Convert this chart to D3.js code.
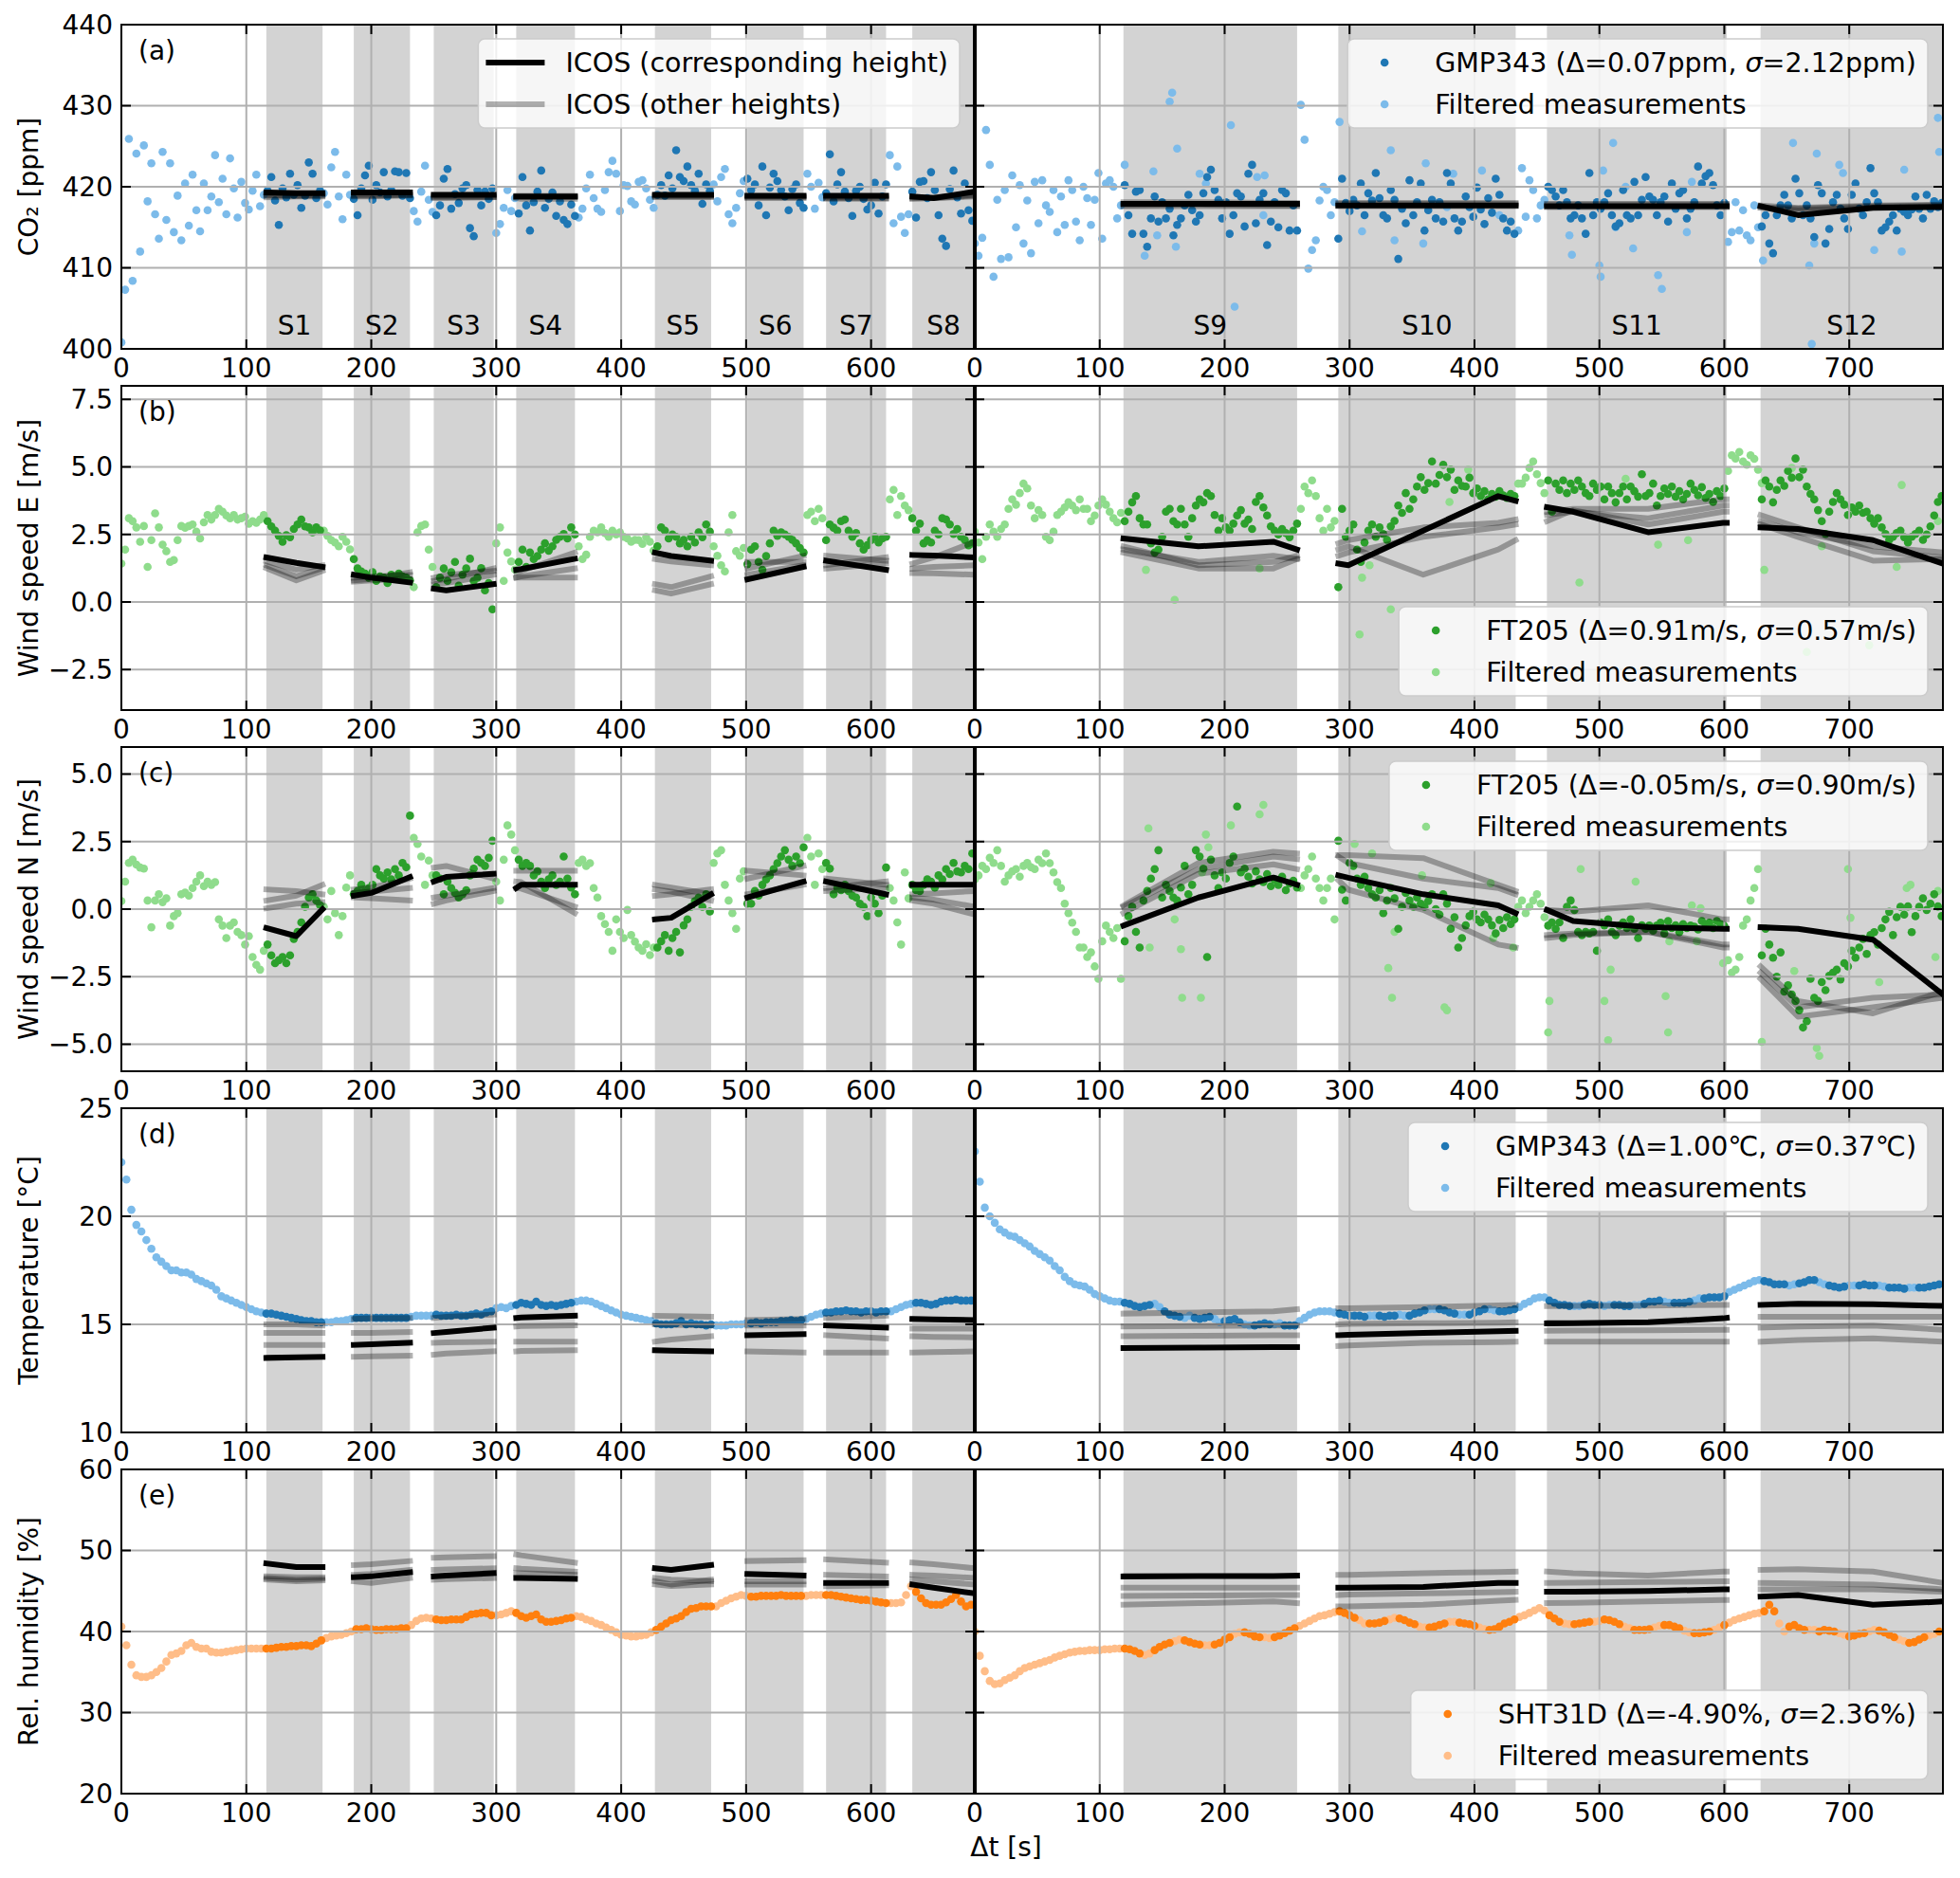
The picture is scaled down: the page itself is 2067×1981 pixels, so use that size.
<!DOCTYPE html>
<html><head><meta charset="utf-8">
<script src="https://cdn.jsdelivr.net/npm/d3@7"></script>
<style>body{margin:0;background:#fff} svg text{font-family:"DejaVu Sans",sans-serif;fill:#000}</style>
</head><body><svg id="c" width="2067" height="1981"></svg>
<script>
// ---------------- DATA ----------------
const segL=[[116,161],[186,231],[250,298],[316,363],[427,472],[501,546],[564,612],[633,683]];
const segR=[[119,258],[291,433],[458,602],[629,775]];
const segNamesL=["S1","S2","S3","S4","S5","S6","S7","S8"];
const segNamesR=["S9","S10","S11","S12"];
const icosTL=[[116,140,161],[186,200,231],[250,260,298],[316,320,363],[427,440,472],[501,546],[564,612],[633,650,683]];
const icosTR=[[119,179,239,258],[291,299,359,419,433],[458,479,539,599,602],[629,659,719,775]];
const xTicksL=[0,100,200,300,400,500,600];
const xTicksR=[0,100,200,300,400,500,600,700];

// CO2 (step 3 s)
const co2L=[400.8,407.3,425.9,408.4,424.1,412.0,425.1,418.2,422.9,416.6,
413.6,424.3,415.9,422.9,414.4,418.9,413.4,420.4,415.2,421.5,
417.1,414.5,420.4,417.1,418.8,423.9,418.1,421.0,416.6,423.5,
419.8,416.2,420.6,418.0,417.2,419.5,421.5,417.6,419.0,419.5,
421.2,418.3,415.3,419.8,418.7,421.6,419.0,420.2,417.4,418.9,
423.0,421.6,418.6,419.5,419.2,417.8,422.4,424.3,418.8,416.0,
421.5,419.0,418.5,416.5,419.8,421.4,422.6,418.4,420.2,419.3,
421.8,418.8,419.6,421.9,421.8,418.9,421.7,418.6,417.0,415.7,
419.4,422.6,418.4,416.9,416.5,417.7,421.0,422.2,417.3,419.1,
418.0,419.8,420.2,414.9,413.9,419.6,417.7,419.4,418.5,419.8,
414.3,415.4,417.4,419.6,417.0,418.6,416.7,421.2,417.7,414.6,
418.1,419.4,422.0,417.4,418.5,419.3,416.4,418.2,415.9,415.4,
417.8,416.4,416.2,417.3,419.8,421.5,418.6,417.3,416.9,419.6,
421.8,423.2,421.6,417.0,420.2,420.1,418.2,417.8,420.6,420.8,
419.8,418.4,417.4,419.0,420.2,418.9,421.4,419.8,424.5,421.2,
420.7,422.5,420.2,419.5,421.6,417.9,420.3,419.5,420.3,418.2,
421.2,422.2,416.6,415.5,417.4,419.2,420.7,421.0,419.6,420.3,
417.7,422.5,416.5,419.9,421.6,420.7,419.6,418.8,417.1,419.7,
420.3,418.0,417.4,421.6,420.0,417.3,420.5,418.7,419.2,424.0,
418.2,420.3,421.8,419.4,418.6,416.4,419.5,420.0,418.5,417.2,
417.7,420.5,416.7,418.8,420.3,423.9,415.5,422.5,416.3,414.3,
416.6,419.4,416.2,420.6,420.7,418.6,421.8,419.6,416.5,413.6,
412.7,419.7,422.0,418.7,416.7,420.4,417.1,415.8];
const co2R=[413.0,411.5,413.7,427.0,422.7,408.9,418.4,411.1,419.6,411.3,
421.4,415.0,420.2,413.0,418.3,411.8,420.6,415.5,420.8,417.7,
416.9,419.6,414.4,418.8,415.3,420.8,419.6,415.7,413.4,420.0,
418.6,415.3,418.4,421.7,413.6,420.4,420.8,420.0,416.1,417.7,
420.2,416.5,414.2,419.4,419.6,414.2,412.6,416.1,418.8,415.7,
418.1,416.1,417.3,414.0,415.3,416.1,417.7,419.0,417.1,415.7,
416.5,419.2,421.2,422.1,419.6,418.4,416.1,418.1,414.2,416.5,
419.2,418.8,415.1,421.6,422.7,415.5,418.4,419.2,412.8,415.7,
418.1,415.0,419.6,419.2,414.6,417.7,414.6,430.1,425.8,409.9,
412.2,413.4,418.3,420.0,419.6,416.5,418.1,413.6,421.0,418.0,
417.0,418.4,417.7,420.4,416.5,419.2,418.3,421.7,418.6,416.5,
416.1,419.6,418.4,411.1,417.3,415.5,420.8,416.5,418.1,420.4,
414.6,417.1,418.4,416.1,418.1,415.7,421.7,420.4,416.1,414.6,
415.7,418.8,417.5,416.3,419.9,417.2,415.4,418.6,416.8,421.0,
419.0,416.1,414.6,415.7,414.2,414.6,422.3,416.3,420.8,419.6,
416.1,417.7,418.4,420.0,419.6,418.8,417.7,419.6,418.1,416.1,
416.5,417.7,416.1,414.2,421.7,416.5,418.1,417.3,418.1,419.2,
416.5,415.1,415.5,419.6,416.5,416.1,420.6,416.5,418.4,421.2,
418.8,418.4,416.5,418.1,418.8,415.7,420.4,417.3,419.2,419.6,
416.1,417.3,418.1,422.5,420.4,421.3,421.7,420.2,417.7,416.5,
418.0,413.2,414.4,418.1,414.6,417.1,414.0,413.4,417.7,415.0,
415.1,416.5,413.0,411.8,416.5,417.7,419.0,417.7,416.1,421.0,
419.2,416.5,417.7,416.1,413.8,420.2,419.2,413.0,414.8,418.1,
419.0,417.3,416.1,414.8,419.0,420.4,417.3,416.5,418.1,422.3,
419.2,418.1,414.6,415.0,415.7,416.5,414.6,417.3,416.9,416.5,
417.2,418.8,417.3,416.1,419.0,417.3,418.2,417.5,418.0];
const co2RFilt=[[120,422.7],[136,411.5],[143,421.9],[146,414.0],[156,430.5],[158,431.6],[162,424.7],[161,412.6],[180,421.6],[185,420.4],[205,427.6],[208,405.2],[226,421.2],[231,416.5],[232,421.4],
[292,428.0],[333,424.5],[336,413.4],[359,413.0],[361,422.9],[383,421.6],[406,422.0],[420,416.5],[378,417.5],[310,414.5],
[511,425.4],[500,410.3],[501,408.9],[478,411.6],[527,412.4],[547,409.1],[550,407.4],[570,414.4],[521,420.0],[574,420.6],[476,414.0],[513,415.0],[503,422.0],
[631,410.9],[655,425.4],[674,424.1],[668,410.3],[670,400.6],[672,413.0],[692,422.7],[695,421.7],[720,412.2],[742,412.0],[744,422.1],[771,428.5],[772,424.3]];
const co2IcL=[
 [[419.3,419.2,419.2],[418.7,418.8,418.8],[418.9,418.9,418.9],[419.0,418.9,419.0]],
 [[419.3,419.3,419.3],[418.9,418.9,419.0],[419.0,419.0,419.0],[418.8,418.8,418.9]],
 [[419.0,419.0,419.0],[418.6,418.6,418.7],[418.8,418.8,418.8],[418.7,418.7,418.7]],
 [[418.8,418.8,418.8],[418.6,418.5,418.5],[418.7,418.7,418.7],[418.9,418.9,418.9]],
 [[419.0,419.0,419.0],[418.8,418.8,418.8],[418.7,418.7,418.7],[418.9,418.9,418.9]],
 [[418.9,418.9],[418.6,418.6],[418.7,418.7],[418.8,418.8]],
 [[418.9,418.9],[418.5,418.5],[418.6,418.6],[418.7,418.8]],
 [[418.8,418.6,419.4],[418.6,418.6,418.9],[418.7,418.7,419.0],[418.5,418.6,418.8]]];
const co2IcR=[
 [[417.9,417.9,417.9,417.9],[417.7,417.8,417.7,417.7],[418.1,418.1,418.0,418.0],[417.6,417.6,417.6,417.6]],
 [[417.7,417.7,417.7,417.7,417.7],[417.9,417.9,417.9,417.9,417.9],[417.6,417.6,417.6,417.6,417.6],[418.0,418.0,418.0,418.0,418.0]],
 [[417.6,417.6,417.6,417.6,417.6],[417.8,417.8,417.8,417.8,417.8],[417.5,417.5,417.5,417.5,417.5],[417.9,417.9,417.9,417.9,417.9]],
 [[417.6,416.5,417.4,417.5],[417.4,417.1,417.5,417.6],[417.5,417.3,417.6,417.7],[417.7,417.4,417.7,417.8]]];

// Wind speed E (step 3 s)
const windEL=[1.42,1.94,3.10,2.99,2.76,2.23,2.81,1.30,2.29,3.28,
2.76,2.12,1.88,1.48,1.55,2.29,2.81,2.75,2.81,2.87,
2.60,2.35,2.95,3.22,3.05,3.22,3.45,3.34,3.20,3.10,
3.22,3.05,3.10,3.16,2.90,2.99,2.93,3.05,3.22,2.99,
2.80,2.64,2.45,2.23,2.47,2.40,2.70,2.87,3.05,2.80,2.76,2.58,2.76,2.65,
2.64,2.45,2.29,2.20,2.06,2.41,2.23,1.95,
1.59,1.24,1.13,1.05,0.90,1.10,0.78,0.95,0.90,0.70,1.01,0.85,1.05,0.95,0.90,
0.80,0.55,2.58,2.81,2.87,1.94,1.30,
0.55,0.90,1.24,0.78,1.10,1.48,0.60,1.01,1.24,1.60,0.78,0.90,1.25,0.43,0.70,-0.27,
2.17,2.76,0.78,1.83,1.50,1.20,
1.48,1.94,1.30,1.83,1.59,1.70,1.94,2.17,1.90,2.06,2.30,2.41,2.52,2.35,2.76,2.50,
2.06,1.59,1.75,2.41,2.64,2.58,2.76,2.55,2.41,2.64,2.50,2.58,2.41,2.35,2.23,2.30,2.29,2.15,2.40,2.23,1.90,
2.06,2.76,2.64,2.35,2.50,2.41,2.17,2.30,2.06,2.41,2.20,2.58,2.40,2.87,2.60,
2.06,1.71,1.36,1.13,2.58,3.22,1.88,1.71,2.00,1.40,
1.94,2.06,1.48,1.19,1.70,2.17,2.64,2.45,2.58,2.50,2.41,2.30,2.17,2.00,1.83,
3.22,3.34,2.99,3.45,3.10,
2.29,2.87,2.75,2.64,2.99,3.05,2.64,2.41,2.55,2.17,1.94,2.10,2.29,2.41,2.20,2.35,2.41,
3.80,4.15,3.22,3.92,3.57,3.40,
3.10,2.64,2.90,2.17,2.29,2.20,2.64,2.50,3.10,3.05,2.87,2.52,2.70,2.41,2.30,2.10,2.17];
const windER=[2.60,2.20,1.59,2.41,2.87,2.60,2.41,2.70,2.87,3.45,
3.80,3.60,4.03,4.38,4.20,3.57,3.10,3.40,3.22,2.41,
2.29,2.60,3.22,3.34,3.50,3.69,3.57,3.40,3.80,3.45,
3.45,2.99,3.20,3.57,3.80,3.60,3.34,3.10,2.95,3.30,
2.99,3.34,3.69,3.92,3.10,2.87,2.87,2.17,1.83,1.94,
2.41,3.34,3.45,2.99,2.87,3.45,2.87,2.41,3.10,3.57,
3.80,3.69,4.03,3.92,3.22,2.64,3.10,2.76,2.64,2.90,
3.20,3.40,2.90,3.05,2.70,3.70,3.92,3.50,3.20,2.80,
2.64,2.50,2.70,2.55,2.40,2.64,2.90,
3.45,4.27,4.03,4.50,3.92,3.10,2.64,3.45,2.76,3.00,
0.55,3.45,2.41,2.64,2.87,1.94,1.48,2.20,2.64,2.87,
2.41,2.76,2.52,2.30,2.80,3.00,3.57,3.30,4.03,3.45,
3.80,4.27,4.62,4.15,4.40,5.20,4.38,4.70,5.08,4.62,
4.90,4.15,4.50,4.30,4.27,4.60,4.03,4.20,3.92,4.10,
3.80,4.00,3.90,4.10,3.95,3.85,4.00,3.92,
4.38,4.38,4.60,4.96,5.20,4.73,4.40,4.03,
4.50,3.34,4.38,4.15,4.50,4.03,4.38,4.15,4.50,4.27,
4.03,3.92,4.38,4.15,4.27,3.80,4.27,4.03,3.69,4.03,
4.27,3.80,4.27,4.10,3.90,4.73,3.92,4.03,4.38,3.57,
3.92,4.20,4.00,4.27,3.90,4.10,3.80,4.00,4.38,4.15,
3.95,4.25,3.85,4.00,3.70,4.10,3.92,4.20,
4.85,5.43,5.31,5.55,5.20,5.08,5.43,5.30,4.90,
3.80,4.50,4.27,3.69,4.15,4.50,4.30,4.85,4.60,5.31,
4.62,4.90,4.27,4.00,3.80,3.40,2.99,2.52,3.34,3.70,
4.03,3.80,3.60,3.22,3.50,3.34,3.57,3.30,3.34,3.10,
2.90,3.10,2.76,2.52,2.30,2.41,2.55,2.64,2.40,2.20,
2.41,2.52,2.64,2.30,2.50,2.80,3.20,3.70,3.92];
const windERFilt=[[137,1.19],[160,0.08],[228,1.24],[308,-1.2],[310,0.9],[316,1.36],[333,-0.27],[484,0.72],[547,2.12],[571,2.29],[521,4.56],[632,1.19],[678,2.06],[716,-1.6],[738,1.3],[666,-1.85],[742,4.33],[771,2.99],[654,4.96],[380,3.7],[395,4.9],[630,4.4]];
const weIcL=[
 [[1.65,1.45,1.30],[1.25,0.80,1.15],[1.35,0.95,1.25],[1.50,1.20,1.35]],
 [[1.01,0.90,0.72],[0.80,0.85,1.10],[0.90,0.95,1.00],[0.75,0.80,0.85]],
 [[0.49,0.43,0.66],[0.78,0.85,1.24],[0.66,0.70,1.01],[0.90,1.00,1.15]],
 [[1.19,1.22,1.60],[0.90,0.90,0.90],[0.90,0.95,1.24],[1.10,1.15,1.83]],
 [[1.83,1.70,1.53],[0.66,0.55,0.95],[0.43,0.31,0.66],[1.59,1.50,1.36]],
 [[0.84,1.30],[1.48,1.48],[1.24,1.71],[1.01,1.36]],
 [[1.53,1.19],[1.36,1.65],[1.71,1.53],[1.24,1.42]],
 [[1.74,1.72,1.65],[1.42,1.65,2.23],[1.07,1.06,1.01],[1.24,1.30,1.36]]];
const weIcR=[
 [[2.35,2.06,2.23,1.94],[1.94,1.48,1.71,1.59],[1.83,1.24,1.24,1.59],[2.06,1.36,1.48,1.71]],
 [[1.42,1.36,2.64,3.92,3.74],[2.17,2.29,2.76,2.93,3.05],[1.94,2.06,1.01,1.94,2.29],[1.71,1.83,2.41,2.76,2.87]],
 [[3.51,3.34,2.58,2.93,2.93],[3.34,3.45,3.45,3.80,3.80],[3.22,3.34,3.10,3.57,3.57],[2.99,3.40,2.87,3.34,3.34]],
 [[2.76,2.70,2.29,1.42],[3.22,2.76,1.88,1.65],[2.87,2.41,1.53,1.59],[2.99,2.58,2.06,1.83]]];

// Wind speed N (step 3 s)
const windNL=[0.30,1.02,1.71,1.83,1.65,1.54,1.50,0.32,-0.67,0.32,
0.55,0.26,0.40,-0.61,-0.26,-0.15,0.55,0.61,0.50,0.78,
1.02,1.25,0.85,1.02,0.90,1.00,-0.38,-0.61,-1.07,-0.61,
-0.49,-0.84,-0.96,-1.31,-1.00,-1.77,-2.06,-2.24,-1.54,-1.31,
-1.71,-2.00,-1.89,-1.77,-2.00,-1.71,-1.10,-0.84,-0.49,0.09,0.43,0.55,0.32,0.15,
0.09,-0.38,0.67,-0.15,-0.96,-0.26,0.80,1.25,
0.55,0.67,0.90,0.67,0.78,0.90,1.48,1.25,1.13,1.36,1.10,1.48,1.25,1.71,1.55,
3.46,2.64,2.41,1.95,0.90,1.80,1.25,
1.25,1.13,0.55,1.02,0.78,0.60,0.43,0.55,0.70,1.25,1.50,1.83,1.71,1.60,1.90,2.53,
1.02,0.32,1.83,3.10,2.76,2.18,
1.83,1.60,1.71,1.60,1.25,1.40,1.02,0.78,1.10,1.25,0.90,1.02,1.95,1.13,0.80,0.55,
1.71,1.83,1.60,1.70,0.78,0.43,-0.26,-0.55,-0.84,-1.54,-0.38,-0.84,-1.07,-0.03,-0.96,-1.20,-1.42,-1.54,-1.30,-1.70,-1.42,
-1.42,-1.19,-0.96,-1.54,-1.07,-0.84,-1.60,-0.60,-0.38,0.09,0.30,0.43,0.09,0.55,-0.09,
1.71,2.06,2.18,0.90,0.32,-0.15,-0.73,1.13,1.40,0.20,
0.20,0.67,0.50,0.90,1.10,1.25,1.48,1.70,1.95,2.18,1.83,1.60,1.95,1.70,2.29,
2.64,1.95,0.90,2.06,1.48,
1.71,1.50,0.55,0.78,0.70,0.90,0.67,0.50,0.43,0.20,0.09,-0.26,0.43,0.20,-0.15,0.50,1.54,
0.78,0.32,-0.49,-1.31,1.36,0.40,
0.90,0.70,0.67,0.90,1.10,1.02,0.80,1.25,1.10,1.48,1.30,1.71,1.40,1.36,1.60,1.48,2.06];
const windNR=[1.10,1.25,1.60,1.48,1.90,1.71,2.18,1.60,1.02,1.25,
1.40,1.48,1.20,1.60,1.71,1.55,1.48,1.83,1.70,2.06,
1.70,1.36,1.00,0.78,0.20,-0.15,-0.50,-0.84,-1.42,-1.42,
-1.77,-1.60,-2.12,-2.58,-1.19,-0.61,-0.84,-1.07,-0.70,-2.58,
-1.19,-0.26,0.09,-0.84,-1.42,0.32,0.67,1.13,1.48,2.18,
0.43,0.90,0.67,0.43,0.32,0.80,1.60,0.55,0.90,2.18,
1.95,1.50,-1.77,1.83,1.25,0.78,1.36,1.13,1.71,1.95,
3.80,1.36,1.50,1.20,0.95,1.40,1.10,1.00,1.30,0.85,
1.10,0.90,1.20,0.70,0.95,1.05,0.80,
0.78,1.25,1.48,1.95,1.13,0.78,0.32,0.78,1.13,-0.38,
2.53,0.72,0.32,1.71,1.60,1.13,0.90,1.20,0.78,0.55,
0.43,0.70,-0.15,0.32,0.78,0.40,-0.73,0.09,0.60,0.32,
0.09,0.43,0.20,0.09,0.30,0.55,0.00,-0.20,0.55,0.20,
-0.73,-0.30,-1.42,-1.07,-0.60,-0.26,-0.10,-0.38,-0.49,-0.20,
-0.38,-0.60,-0.90,-0.40,-0.70,-0.30,-0.55,-0.38,
0.09,0.32,-0.15,0.09,0.32,0.55,0.20,-0.30,
-0.61,-0.49,-0.73,-0.49,-1.07,0.09,0.32,-0.03,-0.84,-0.96,
-0.84,-0.90,-0.84,-1.54,-0.49,-0.60,-0.38,-0.84,-0.96,-0.61,
-0.49,-0.70,-0.38,-0.73,-1.07,-0.60,-0.73,-0.61,-0.80,-0.61,
-0.50,-0.90,-0.44,-0.70,-0.60,-0.85,-0.55,-0.70,-0.61,-0.65,
-0.75,-0.44,-0.60,-0.50,-0.70,-0.44,-0.55,-0.62,
-1.89,-2.35,-2.24,-1.77,-0.61,-0.38,0.32,0.78,1.48,
-1.71,-0.73,-1.31,-1.80,-2.50,-1.60,-3.05,-2.82,-3.16,-3.40,
-3.74,-4.38,-4.15,-2.58,-3.28,-3.40,-2.70,-3.00,-2.47,-2.35,
-2.24,-2.60,-2.00,-2.12,-1.54,-1.80,-1.42,-1.10,-1.66,-0.96,
-0.85,-1.31,-0.70,-0.38,-0.10,-0.96,-0.30,0.09,-0.20,0.10,
-0.85,-0.26,0.09,0.40,-0.03,0.20,0.55,0.10,-0.26];
const windNRFilt=[[139,2.99],[140,-1.42],[160,-0.38],[165,-1.48],[182,1.36],[185,2.76],[187,2.29],[205,3.1],[228,3.51],[231,3.86],[181,-3.28],[166,-3.28],[304,2.41],[318,2.06],[331,-2.18],[336,-0.84],[334,-3.28],[358,1.25],[376,-3.63],[378,-3.74],[413,0.96],[431,-1.42],[415,-1.07],[459,-4.56],[460,-3.4],[485,1.48],[504,-3.4],[507,-4.85],[509,-2.24],[529,1.02],[553,-3.22],[555,-4.56],[556,-1.19],[574,0.14],[581,0.03],[578,-1.19],[599,-2.0],[630,-4.91],[656,-2.29],[674,-5.14],[676,-5.43],[699,1.48],[701,-0.32],[724,-2.7],[746,0.78],[749,0.9],[769,-1.77],[771,0.67]];
const wnIcL=[
 [[-0.70,-1.00,0.00],[0.73,0.67,0.55],[0.32,0.50,0.90],[0.03,0.20,0.26]],
 [[0.50,0.60,1.19],[0.43,0.40,0.32],[0.60,0.65,0.78],[0.73,0.80,1.13]],
 [[1.02,1.19,1.31],[1.54,1.60,1.13],[0.20,0.32,0.67],[0.43,0.50,0.78]],
 [[0.78,0.90,0.90],[1.42,1.42,1.42],[1.02,1.00,-0.15],[0.78,0.76,0.09]],
 [[-0.38,-0.32,0.55],[0.90,0.80,0.55],[0.49,0.55,0.73],[0.73,0.65,0.32]],
 [[0.43,1.02],[1.42,1.25],[0.55,0.90],[1.13,1.60]],
 [[1.02,0.55],[1.13,0.90],[0.67,0.78],[0.78,1.02]],
 [[0.90,0.90,0.90],[0.43,0.35,0.09],[0.55,0.58,0.67],[0.32,0.20,-0.20]]];
const wnIcR=[
 [[-0.61,0.43,1.17,0.90],[0.14,1.71,2.12,2.06],[-0.15,1.31,1.66,1.48],[0.09,1.48,1.95,1.85]],
 [[1.25,1.16,0.55,0.14,-0.15],[2.00,2.00,1.89,0.90,0.67],[1.95,1.71,1.13,0.78,0.55],[1.07,0.72,-0.03,-1.31,-1.42]],
 [[-0.03,-0.44,-0.67,-0.73,-0.73],[-0.03,-0.10,0.14,-0.38,-0.38],[-1.07,-0.96,-0.84,-1.42,-1.42],[-0.96,-0.90,-0.84,-1.31,-1.31]],
 [[-0.67,-0.73,-1.13,-3.16],[-2.35,-3.63,-3.28,-3.16],[-2.58,-3.98,-3.63,-3.28],[-2.12,-3.40,-3.86,-3.05]]];

// Temperature (step 4 s)
const tempL=[22.5,21.7,20.3,19.6,19.3,18.9,18.5,18.1,17.9,17.7,
17.5,17.5,17.4,17.4,17.3,17.1,17.0,16.9,16.8,16.6,
16.3,16.2,16.1,16.0,15.9,15.8,15.7,15.6,15.55,15.5,
15.5,15.45,15.4,15.35,15.3,15.25,15.2,15.15,15.15,15.1,
15.1,15.1,15.1,15.15,15.15,15.2,15.25,15.3,15.3,15.3,
15.3,15.3,15.3,15.3,15.3,15.3,15.3,15.3,15.35,15.4,
15.4,15.4,15.4,15.45,15.4,15.4,15.4,15.45,15.4,15.4,
15.45,15.5,15.45,15.55,15.6,15.75,15.8,15.75,15.85,15.9,
16.0,15.95,15.9,16.05,15.9,15.85,15.9,15.85,15.9,15.95,
16.0,16.05,16.1,16.1,16.05,15.95,15.85,15.75,15.65,15.55,
15.45,15.4,15.35,15.3,15.25,15.2,15.15,15.05,15.0,15.0,
15.0,15.05,15.15,15.0,15.05,15.0,15.0,14.95,15.0,14.95,
14.95,14.95,15.0,15.0,15.0,15.05,15.05,15.1,15.05,15.1,
15.1,15.1,15.15,15.15,15.2,15.15,15.2,15.25,15.35,15.45,
15.5,15.55,15.55,15.6,15.6,15.65,15.6,15.6,15.55,15.6,
15.6,15.55,15.6,15.6,15.6,15.7,15.8,15.9,15.95,16.0,
16.0,15.95,15.9,15.95,16.05,16.1,16.1,16.15,16.1,16.1,
16.1];
const tempR=[23.0,21.6,20.4,20.0,19.7,19.4,19.25,19.1,19.05,18.9,
18.75,18.6,18.4,18.25,18.1,17.95,17.7,17.5,17.2,17.0,
16.85,16.8,16.75,16.6,16.4,16.3,16.2,16.1,16.05,16.05,
16.0,15.95,15.85,15.8,15.85,15.9,15.95,15.8,15.6,15.45,
15.4,15.35,15.3,15.4,15.3,15.25,15.3,15.35,15.25,15.1,
15.15,15.2,15.25,15.1,15.0,14.95,14.95,15.0,15.05,15.0,
15.0,15.05,14.95,14.95,14.95,15.15,15.3,15.45,15.55,15.6,
15.6,15.6,15.55,15.5,15.45,15.4,15.4,15.4,15.35,15.4,
15.4,15.4,15.35,15.4,15.4,15.45,15.4,15.4,15.5,15.55,
15.65,15.7,15.7,15.7,15.65,15.55,15.5,15.45,15.45,15.45,
15.55,15.6,15.7,15.7,15.65,15.6,15.6,15.65,15.7,15.8,
15.95,16.05,16.2,16.25,16.25,16.1,16.0,15.9,15.9,15.85,
15.85,15.85,15.9,15.95,15.9,15.9,15.85,15.9,15.9,15.9,
15.85,15.85,15.9,15.9,15.95,16.05,16.05,16.1,16.05,16.0,
16.0,16.0,16.0,16.05,16.1,16.2,16.2,16.25,16.25,16.25,
16.3,16.5,16.6,16.7,16.8,16.9,17.0,17.05,17.0,16.95,
16.85,16.85,16.85,16.8,16.85,16.9,16.95,17.05,17.05,16.95,
16.85,16.8,16.75,16.7,16.75,16.8,16.8,16.8,16.85,16.8,
16.8,16.8,16.75,16.7,16.7,16.7,16.65,16.7,16.7,16.7,
16.7,16.75,16.8,16.85];
// times (s) of filtered samples inside the right-hand sections
const tempRFiltT=[144,148,168,172,192,196,216,220,240,244,316,320,340,344,364,368,388,392,412,416,480,484,504,508,528,532,552,556,576,580,652,656,676,680,700,704,724,728,748,752];
const tIcL=[
 [[13.45,13.48,13.50],[15.00,15.00,14.95],[14.60,14.60,14.60],[14.05,14.05,14.05]],
 [[14.05,14.08,14.15],[15.25,15.28,15.30],[14.60,14.60,14.65],[13.50,13.52,13.55]],
 [[14.60,14.65,14.85],[15.30,15.35,15.45],[14.15,14.17,14.20],[13.60,13.65,13.75]],
 [[15.30,15.32,15.40],[14.90,14.92,14.95],[14.20,14.20,14.20],[13.75,13.77,13.80]],
 [[13.80,13.78,13.75],[15.40,15.38,15.35],[15.00,14.98,14.95],[14.20,14.30,14.45]],
 [[14.50,14.55],[15.20,15.25],[14.95,14.95],[13.75,13.70]],
 [[14.95,14.85],[15.30,15.40],[14.50,14.35],[13.70,13.70]],
 [[15.25,15.23,15.20],[14.80,14.80,14.80],[14.45,14.42,14.40],[13.70,13.72,13.75]]];
const tIcR=[
 [[13.90,13.92,13.95,13.95],[15.50,15.55,15.60,15.70],[14.90,14.92,14.95,14.95],[14.45,14.47,14.50,14.50]],
 [[14.50,14.52,14.60,14.68,14.70],[15.75,15.75,15.80,15.88,15.90],[15.00,15.02,15.05,15.08,15.10],[14.00,14.02,14.15,14.18,14.20]],
 [[15.05,15.06,15.10,15.28,15.30],[15.85,15.86,15.87,15.90,15.90],[14.70,14.71,14.73,14.75,14.75],[14.20,14.20,14.20,14.20,14.20]],
 [[15.90,15.95,15.93,15.85],[15.35,15.35,15.35,15.35],[14.85,14.90,14.95,14.75],[14.20,14.28,14.35,14.20]]];

// Relative humidity (step 4 s)
const rhL=[40.6,38.3,35.9,34.6,34.4,34.4,34.6,35.0,35.5,36.3,
37.1,37.3,37.6,38.3,38.6,38.1,37.9,37.9,37.5,37.4,
37.4,37.5,37.6,37.7,37.8,37.9,37.9,37.9,37.9,37.9,
37.9,38.0,38.1,38.1,38.2,38.2,38.3,38.3,38.2,38.5,
38.9,39.2,39.4,39.5,39.6,39.8,40.0,40.3,40.3,40.4,
40.3,40.2,40.2,40.3,40.3,40.3,40.4,40.4,40.8,41.3,
41.6,41.7,41.6,41.5,41.4,41.4,41.5,41.5,41.5,41.8,
42.1,42.2,42.3,42.3,42.0,42.0,42.1,42.3,42.5,42.3,
41.9,41.7,41.9,42.1,41.5,41.2,41.2,41.3,41.4,41.6,
41.7,41.9,41.8,41.5,41.3,41.0,40.8,40.5,40.2,39.9,
39.6,39.5,39.4,39.4,39.5,39.6,39.9,40.2,40.6,41.0,
41.4,41.6,41.9,42.4,42.8,42.9,43.1,43.1,43.1,43.1,
43.5,43.8,44.1,44.3,44.5,44.4,44.3,44.3,44.4,44.4,
44.4,44.4,44.5,44.4,44.4,44.4,44.4,44.4,44.5,44.5,
44.5,44.5,44.5,44.4,44.3,44.2,44.1,44.0,43.9,43.9,
43.8,43.7,43.6,43.5,43.5,43.5,43.6,44.5,45.6,44.9,
44.1,43.5,43.3,43.3,43.3,43.6,44.0,44.5,43.7,43.1,
43.3];
const rhR=[40.0,37.0,35.1,33.9,33.5,33.6,34.0,34.3,34.6,35.1,
35.5,35.7,35.9,36.1,36.3,36.5,36.8,37.0,37.2,37.4,
37.5,37.6,37.6,37.7,37.7,37.7,37.8,37.8,37.9,37.9,
37.9,37.8,37.6,37.3,37.1,37.3,37.7,38.1,38.4,38.6,
38.8,39.0,38.9,38.7,38.5,38.4,38.3,38.3,38.4,38.6,
39.0,39.3,39.7,39.9,39.9,39.7,39.4,39.3,39.3,39.2,
39.3,39.5,39.8,40.1,40.4,40.7,41.0,41.3,41.6,41.9,
42.0,42.2,42.4,42.5,42.3,42.0,41.7,41.4,41.0,41.0,
41.0,41.1,41.3,41.5,41.7,41.6,41.4,41.1,40.9,40.6,
40.5,40.5,40.6,40.8,41.0,41.2,41.2,41.1,41.0,40.9,
40.7,40.5,40.3,40.2,40.3,40.6,41.0,41.2,41.5,41.8,
42.0,42.3,42.6,42.9,42.6,42.0,41.6,41.2,41.0,40.9,
40.9,41.0,41.1,41.2,41.2,41.3,41.5,41.4,41.2,40.9,
40.6,40.4,40.2,40.2,40.2,40.3,40.5,40.7,40.8,40.8,
40.6,40.4,40.1,39.9,39.8,39.8,39.9,40.0,40.2,40.5,
40.8,41.1,41.4,41.6,41.8,42.0,42.2,42.3,42.5,43.3,
42.5,41.0,40.0,40.6,40.8,40.4,40.2,40.2,40.2,40.0,
40.2,40.1,40.0,39.8,39.6,39.4,39.5,39.7,39.8,40.0,
40.2,40.1,39.9,39.6,39.3,39.0,38.8,38.6,38.7,39.0,
39.3,39.5,39.7,40.0];
const rhRFiltT=[136,140,160,164,184,188,208,212,232,236,308,312,332,336,356,360,380,384,404,408,472,476,496,500,520,524,544,548,568,572,592,596,644,648,668,672,692,696,716,720,740,744,764,768];
const rhIcL=[
 [[48.4,47.95,47.95],[46.6,46.4,46.5],[46.8,46.7,46.7],[46.4,46.2,46.3]],
 [[46.7,46.8,47.3],[48.2,48.3,48.7],[46.2,46.0,46.6],[47.0,47.1,47.6]],
 [[46.8,46.9,47.2],[49.1,49.15,49.3],[47.6,47.65,47.8],[46.4,46.45,46.6]],
 [[46.6,46.6,46.5],[49.5,49.4,48.5],[47.8,47.75,47.4],[47.2,47.2,47.0]],
 [[47.8,47.6,48.2],[46.2,45.8,46.4],[45.8,45.6,45.8],[46.6,46.4,46.2]],
 [[47.1,46.9],[48.7,48.8],[45.8,45.8],[46.2,46.2]],
 [[46.0,46.0],[48.9,48.5],[47.0,46.8],[45.6,45.7]],
 [[45.8,45.4,44.7],[48.5,48.3,47.8],[47.0,46.9,46.6],[46.4,46.2,45.8]]];
const rhIcR=[
 [[46.8,46.85,46.85,46.9],[45.4,45.4,45.4,45.4],[44.4,44.45,44.5,44.5],[43.3,43.5,43.7,43.5]],
 [[45.4,45.4,45.5,46.0,46.0],[47.0,47.0,47.2,47.35,47.4],[44.5,44.55,44.7,44.85,44.9],[43.1,43.1,43.3,43.8,43.9]],
 [[44.9,44.92,45.0,45.2,45.2],[47.4,47.2,46.9,47.4,47.4],[46.0,46.02,46.1,46.2,46.2],[43.5,43.55,43.7,43.9,43.9]],
 [[44.3,44.5,43.3,43.7],[47.6,47.7,47.4,46.0],[46.0,45.95,45.8,45.2],[45.2,45.2,45.2,44.9]]];

// ---------------- DRAWING ----------------
const W=2067,H=1981,X0=128,XM=1028,X1=2049,PH=342,FS=28,LFS=28.5,R=4.3;
const xL=d3.scaleLinear().domain([0,683]).range([X0,XM]);
const xR=d3.scaleLinear().domain([0,775]).range([XM,X1]);
const svg=d3.select('#c');
svg.append('rect').attr('width',W).attr('height',H).attr('fill','#fff');
const defs=svg.append('defs');

const f1=d3.format('.1f'), f0=d3.format('d');
const panels=[
 {tag:'(a)',ylab:'CO\u2082 [ppm]',dom:[400,440],yt:[400,410,420,430,440],fmt:f0,step:3,L:co2L,R:co2R,fL:[],fR:co2RFilt,ftR:[],icL:co2IcL,icR:co2IcR,dark:'#1f77b4',light:'#7cbbea',
  leg:{pos:'top',parts:[['GMP343 (Δ=0.07ppm, '],['σ',1],['=2.12ppm)']]}},
 {tag:'(b)',ylab:'Wind speed E [m/s]',dom:[-4,8],yt:[-2.5,0,2.5,5,7.5],fmt:f1,step:3,L:windEL,R:windER,fL:[],fR:windERFilt,ftR:[],icL:weIcL,icR:weIcR,dark:'#2ca02c',light:'#8fdc8c',
  leg:{pos:'bottom',parts:[['FT205 (Δ=0.91m/s, '],['σ',1],['=0.57m/s)']]}},
 {tag:'(c)',ylab:'Wind speed N [m/s]',dom:[-6,6],yt:[-5,-2.5,0,2.5,5],fmt:f1,step:3,L:windNL,R:windNR,fL:[],fR:windNRFilt,ftR:[],icL:wnIcL,icR:wnIcR,dark:'#2ca02c',light:'#8fdc8c',
  leg:{pos:'top',parts:[['FT205 (Δ=-0.05m/s, '],['σ',1],['=0.90m/s)']]}},
 {tag:'(d)',ylab:'Temperature [°C]',dom:[10,25],yt:[10,15,20,25],fmt:f0,step:4,L:tempL,R:tempR,fL:[],fR:[],ftR:tempRFiltT,icL:tIcL,icR:tIcR,dark:'#1f77b4',light:'#7cbbea',
  leg:{pos:'top',parts:[['GMP343 (Δ=1.00℃, '],['σ',1],['=0.37℃)']]}},
 {tag:'(e)',ylab:'Rel. humidity [%]',dom:[20,60],yt:[20,30,40,50,60],fmt:f0,step:4,L:rhL,R:rhR,fL:[],fR:[],ftR:rhRFiltT,icL:rhIcL,icR:rhIcR,dark:'#ff7f0e',light:'#ffbd88',
  leg:{pos:'bottom',parts:[['SHT31D (Δ=-4.90%, '],['σ',1],['=2.36%)']]}}
];

function drawLegend(right,edge,bottom,rows){
  const g=svg.append('g');
  const box=g.append('rect');
  const texts=rows.map(r=>{
    const t=g.append('text').attr('font-size',LFS);
    r.parts.forEach(p=>t.append('tspan').text(p[0]).attr('font-style',p[1]?'italic':null));
    return t;
  });
  const tw=d3.max(texts,t=>t.node().getComputedTextLength());
  const w=92+tw+12,h=94,left=right-w,y0=bottom?edge-h:edge;
  box.attr('x',left).attr('y',y0).attr('width',w).attr('height',h).attr('rx',7)
     .attr('fill','#fff').attr('fill-opacity',0.8).attr('stroke','#cccccc').attr('stroke-width',1.5);
  rows.forEach((r,k)=>{
    const cy=y0+25+k*44;
    texts[k].attr('x',left+92).attr('y',cy).attr('dy','0.35em');
    if(r.type==='line') g.append('line').attr('x1',left+8).attr('x2',left+70).attr('y1',cy).attr('y2',cy)
       .attr('stroke','#000').attr('stroke-opacity',r.op).attr('stroke-width',6);
    else g.append('circle').attr('cx',left+39).attr('cy',cy).attr('r',R).attr('fill',r.color);
  });
}

panels.forEach((p,i)=>{
  const top=26+i*381, bot=top+PH;
  const y=d3.scaleLinear().domain(p.dom).range([bot,top]);
  const sides=[
    {x:xL,segs:segL,names:segNamesL,vals:p.L,filt:p.fL,ft:[],icT:icosTL,icV:p.icL,xt:xTicksL},
    {x:xR,segs:segR,names:segNamesR,vals:p.R,filt:p.fR,ft:p.ftR,icT:icosTR,icV:p.icR,xt:xTicksR}];
  sides.forEach((s,si)=>{
    const [xa,xb]=s.x.range();
    const cid=`clip${i}${si}`;
    defs.append('clipPath').attr('id',cid).append('rect').attr('x',xa).attr('y',top).attr('width',xb-xa).attr('height',PH);
    const g=svg.append('g').attr('clip-path',`url(#${cid})`);
    g.selectAll('rect.band').data(s.segs).join('rect').attr('class','band')
      .attr('x',d=>s.x(d[0])).attr('width',d=>s.x(d[1])-s.x(d[0])).attr('y',top).attr('height',PH).attr('fill','#d3d3d3');
    const inSeg=t=>s.segs.some(([a,b])=>t>=a&&t<=b);
    const ftSet=new Set(s.ft);
    const pts=s.vals.map((v,k)=>({t:k*p.step,v}));
    const isDark=d=>inSeg(d.t)&&!ftSet.has(d.t);
    const lightPts=pts.filter(d=>!isDark(d)).concat(s.filt.map(([t,v])=>({t,v})));
    const darkPts=pts.filter(isDark);
    g.append('g').selectAll('circle').data(lightPts).join('circle')
      .attr('cx',d=>s.x(d.t)).attr('cy',d=>y(d.v)).attr('r',R).attr('fill',p.light);
    g.append('g').selectAll('circle').data(darkPts).join('circle')
      .attr('cx',d=>s.x(d.t)).attr('cy',d=>y(d.v)).attr('r',R).attr('fill',p.dark);
    // grid
    const gg=g.append('g').attr('stroke','#b0b0b0').attr('stroke-width',2);
    s.xt.forEach(t=>gg.append('line').attr('x1',s.x(t)).attr('x2',s.x(t)).attr('y1',top).attr('y2',bot));
    p.yt.forEach(v=>gg.append('line').attr('x1',xa).attr('x2',xb).attr('y1',y(v)).attr('y2',y(v)));
    // ICOS lines
    const line=d3.line().x(d=>s.x(d[0])).y(d=>y(d[1]));
    s.icV.forEach((seg,k)=>{
      const ts=s.icT[k];
      seg.slice(1).forEach(vals=>g.append('path').attr('d',line(ts.map((t,j)=>[t,vals[j]])))
        .attr('fill','none').attr('stroke','#000').attr('stroke-opacity',0.3).attr('stroke-width',6)
        .attr('stroke-linecap','square').attr('stroke-linejoin','round'));
      g.append('path').attr('d',line(ts.map((t,j)=>[t,seg[0][j]])))
        .attr('fill','none').attr('stroke','#000').attr('stroke-width',6)
        .attr('stroke-linecap','square').attr('stroke-linejoin','round');
    });
    // segment labels
    if(i===0){
      s.segs.forEach((sg,k)=>svg.append('text').attr('x',s.x((sg[0]+sg[1])/2)).attr('y',bot-15)
        .attr('text-anchor','middle').attr('font-size',FS).text(s.names[k]));
    }
    // spines & ticks
    const ax=svg.append('g').attr('stroke','#000').attr('stroke-width',2);
    ax.append('rect').attr('x',xa).attr('y',top).attr('width',xb-xa).attr('height',PH).attr('fill','none');
    s.xt.forEach(t=>{
      const xx=s.x(t);
      ax.append('line').attr('x1',xx).attr('x2',xx).attr('y1',bot).attr('y2',bot-10);
      ax.append('line').attr('x1',xx).attr('x2',xx).attr('y1',top).attr('y2',top+10);
      svg.append('text').attr('x',xx).attr('y',bot+30).attr('text-anchor','middle').attr('font-size',FS).text(t);
    });
    p.yt.forEach(v=>{
      const yy=y(v);
      ax.append('line').attr('x1',xa).attr('x2',xa+10).attr('y1',yy).attr('y2',yy);
      ax.append('line').attr('x1',xb).attr('x2',xb-10).attr('y1',yy).attr('y2',yy);
      if(si===0) svg.append('text').attr('x',xa-9).attr('y',yy).attr('dy','0.35em').attr('text-anchor','end').attr('font-size',FS).text(p.fmt(v));
    });
  });
  // divider
  svg.append('line').attr('x1',XM).attr('x2',XM).attr('y1',top).attr('y2',bot).attr('stroke','#000').attr('stroke-width',4);
  // panel tag & ylabel
  svg.append('text').attr('x',146).attr('y',top+27).attr('dy','0.35em').attr('font-size',FS).text(p.tag);
  svg.append('text').attr('transform',`translate(30,${(top+bot)/2}) rotate(-90)`).attr('text-anchor','middle')
    .attr('dy','0.35em').attr('font-size',FS).text(p.ylab);
  // legends
  const rows=[{type:'dot',color:p.dark,parts:p.leg.parts},{type:'dot',color:p.light,parts:[['Filtered measurements']]}];
  if(p.leg.pos==='top') drawLegend(X1-16,top+15,false,rows);
  else drawLegend(X1-16,bot-15,true,rows);
  if(i===0){
    drawLegend(XM-16,top+15,false,[
      {type:'line',op:1,parts:[['ICOS (corresponding height)']]},
      {type:'line',op:0.3,parts:[['ICOS (other heights)']]}]);
  }
});
svg.append('text').attr('x',1061).attr('y',1958).attr('text-anchor','middle').attr('font-size',FS).text('Δt [s]');
</script></body></html>
